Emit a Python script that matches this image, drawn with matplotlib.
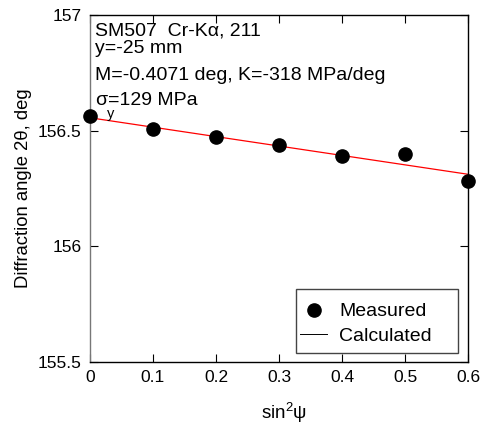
import matplotlib
matplotlib.use("Agg")
import matplotlib.pyplot as plt
from matplotlib.patches import Rectangle
import numpy as np

plt.rcParams['font.family'] = ['Liberation Sans', 'DejaVu Sans']
plt.rcParams['mathtext.fontset'] = 'custom'
plt.rcParams['mathtext.rm'] = 'Liberation Sans'
plt.rcParams['mathtext.it'] = 'Liberation Sans'

sin2psi = [0.0, 0.1, 0.2, 0.3, 0.4, 0.5, 0.6]
two_theta = [156.562, 156.507, 156.471, 156.439, 156.389, 156.400, 156.281]
M = -0.4071
A = 156.556
fit_x = [0.0, 0.6]
fit_y = [A + M * x for x in fit_x]

xticks = [0, 0.1, 0.2, 0.3, 0.4, 0.5, 0.6]
xticklabels = ['0', '0.1', '0.2', '0.3', '0.4', '0.5', '0.6']
yticks = [155.5, 156, 156.5, 157]
yticklabels = ['155.5', '156', '156.5', '157']

fig = plt.figure(figsize=(4.83, 4.30), dpi=100)
ax = fig.add_axes([0.1863, 0.158, 0.7827, 0.807])

ax.plot(sin2psi, two_theta, 'o', color='black', markersize=9.5, label='Measured', zorder=3, clip_on=False)
ax.plot(fit_x, fit_y, '-', color='red', linewidth=0.9, label='Calculated', zorder=2)

ax.set_xlim(0, 0.6)
ax.set_ylim(155.5, 157)
ax.set_xticks(xticks)
ax.set_xticklabels(xticklabels)
ax.set_yticks(yticks)
ax.set_yticklabels(yticklabels)
ax.tick_params(direction='in', top=True, right=True, length=6, width=0.8, labelsize=12.5, pad=6)
for s in ax.spines.values():
    s.set_linewidth(1.0)
    s.set_color('black')
ax.spines['left'].set_color('#777777')

ax.set_xlabel(r'sin$^2$ψ', fontsize=13.5)
ax.xaxis.label.set_va('baseline')
ax.xaxis.set_label_coords(0.513, -0.164)
ax.set_ylabel('Diffraction angle 2θ, deg', fontsize=13.3)
ax.yaxis.label.set_va('center')
ax.yaxis.set_label_coords(-0.177, 0.5)

fs = 14
ax.text(0.013, 0.942, 'SM507  Cr-Kα, 211', transform=ax.transAxes, fontsize=fs, va='baseline', ha='left')
ax.text(0.013, 0.8905, 'y=-25 mm', transform=ax.transAxes, fontsize=fs, va='baseline', ha='left')
ax.text(0.013, 0.8127, 'M=-0.4071 deg, K=-318 MPa/deg', transform=ax.transAxes, fontsize=fs, va='baseline', ha='left')
ax.text(0.013, 0.7406, 'σ', transform=ax.transAxes, fontsize=fs, va='baseline', ha='left')
ax.text(0.045, 0.702, 'y', transform=ax.transAxes, fontsize=10.5, va='baseline', ha='left')
ax.text(0.0476, 0.7406, '=129 MPa', transform=ax.transAxes, fontsize=fs, va='baseline', ha='left')

# legend frame drawn separately (asymmetric padding as in reference)
ax.add_patch(Rectangle((0.545, 0.026), 0.9735 - 0.545, 0.2104 - 0.026, transform=ax.transAxes,
                       facecolor='white', edgecolor='#444444', linewidth=1.0, zorder=4))
leg = ax.legend(loc='upper left', bbox_to_anchor=(0.5556, 0.171), fontsize=14, frameon=False,
                borderaxespad=0.0, borderpad=0.0,
                handlelength=1.39, handletextpad=0.62, labelspacing=0.36)
leg.set_zorder(5)
leg.legend_handles[1].set_color('black')
leg.legend_handles[1].set_linewidth(0.7)

fig.savefig('out.png', dpi=100)
